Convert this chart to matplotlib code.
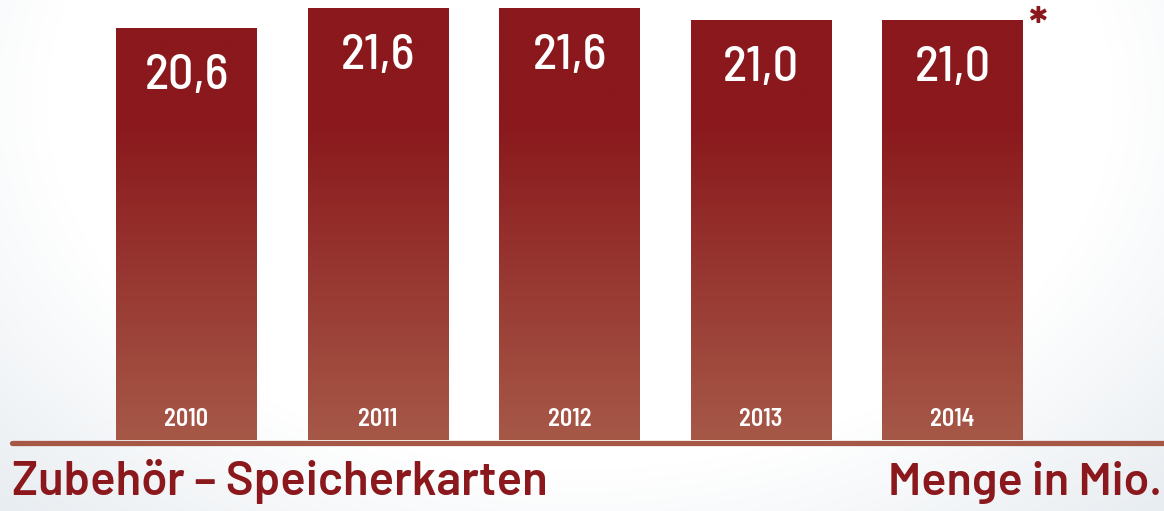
import numpy as np
import matplotlib
matplotlib.use("Agg")
import matplotlib.pyplot as plt
from matplotlib import font_manager
from matplotlib.colors import to_rgb

# --- data ---
years = ["2010", "2011", "2012", "2013", "2014"]
values = [20.6, 21.6, 21.6, 21.0, 21.0]
value_labels = ["20,6", "21,6", "21,6", "21,0", "21,0"]
title = "Zubehör – Speicherkarten"
unit = "Menge in Mio."

dark = "#8A181C"
light = "#A65847"

# DIN-like fonts if present, DejaVu condensed otherwise
installed = {f.name for f in font_manager.fontManager.ttflist}


def font(pref, fallback_stretch):
    for name in pref:
        if name in installed:
            return dict(family=[name, "DejaVu Sans"])
    return dict(family=["DejaVu Sans"], stretch=fallback_stretch)


cond = font(["Barlow Semi Condensed", "Barlow Condensed", "Roboto Condensed"], "condensed")
wide = font(["Barlow", "Roboto"], "normal")

fig = plt.figure(figsize=(11.64, 5.11), dpi=100)

# soft radial background
bg = fig.add_axes([0, 0, 1, 1], zorder=0)
yy, xx = np.mgrid[0:511, 0:1164]
d = np.sqrt(((xx - 580) / 650.0) ** 2 + ((yy - 100) / 450.0) ** 2)
t = np.clip((d - 0.82) / 0.45, 0, 1)[..., None]
edge = np.array(to_rgb("#E8EDF1"))
bg.imshow((1 - t) * 1.0 + t * edge, aspect="auto", interpolation="bilinear")
bg.axis("off")

ax = fig.add_axes([0, 1 - 440 / 511, 1, 440 / 511], zorder=1)
ax.patch.set_alpha(0)
ax.set_xlim(-0.974, 5.104)
ax.set_ylim(0, 22)
ax.axis("off")

x = np.arange(len(years))
bars = ax.bar(x, values, width=0.736, facecolor="none", edgecolor="none")

# vertical gradient, same for every bar
n = 256
ys = np.linspace(22, 0, n)
f = np.clip((16 - ys) / 16.0, 0, 1)[:, None]
grad = (1 - f) * np.array(to_rgb(dark)) + f * np.array(to_rgb(light))
grad = np.repeat(grad[:, None, :], 2, axis=1)
for b in bars:
    im = ax.imshow(grad, extent=(b.get_x(), b.get_x() + b.get_width(), 0, 22),
                   aspect="auto", zorder=2, interpolation="bilinear")
    im.set_clip_path(b)

for xi, v, lab, yr in zip(x, values, value_labels, years):
    ax.text(xi, v - 3.03, lab, ha="center", va="baseline", color="white",
            fontsize=36, fontweight="medium", zorder=3, **cond)
    ax.text(xi, 0.7, yr, ha="center", va="baseline", color="white",
            fontsize=17.5, fontweight="semibold", zorder=3, **cond)

ax.text(4.45, 19.9, "*", ha="center", va="baseline", color=dark,
        fontsize=34, fontweight="bold", zorder=3, **wide)

# baseline
ax.plot([-0.974 + 12 / 191.5, 5.2], [-0.125, -0.125], color=light, lw=3.8,
        solid_capstyle="round", clip_on=False, zorder=3)

fig.text(12 / 1164, 16 / 511, title, ha="left", va="baseline", color=dark,
         fontsize=34, fontweight="semibold", **wide)
fig.text(1162 / 1164, 16 / 511, unit, ha="right", va="baseline", color=dark,
         fontsize=33.5, fontweight="semibold", **wide)

fig.savefig("out.png", dpi=100)
